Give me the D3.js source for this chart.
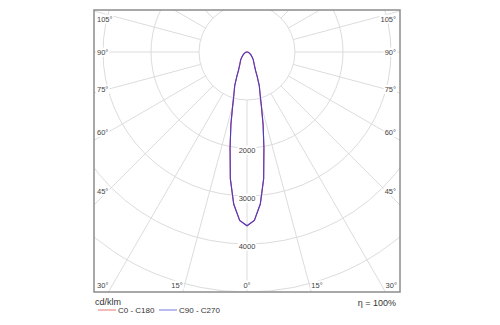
<!DOCTYPE html>
<html><head><meta charset="utf-8">
<script src="https://cdn.jsdelivr.net/npm/d3@7"></script>
<style>html,body{margin:0;padding:0;background:#fff;} svg{display:block;font-family:"Liberation Sans",Arial,sans-serif;}</style>
</head><body><svg id="c" width="500" height="325"></svg>
<script>
// ---- data ----
const gammaAngles = [0,2.5,5,7.5,10,12.5,15,17.5,20,22.5,25,27.5,30,35,40,45,50,55,60,65,70,75,80,85,90];
const intensityC0C180  = [3620,3510,3180,2660,2030,1550,1150,900,750,560,420,350,300,240,200,150,120,95,75,55,40,28,18,8,0];
const intensityC90C270 = [3620,3510,3180,2660,2030,1550,1150,900,750,560,420,350,300,240,200,150,120,95,75,55,40,28,18,8,0];
const ringValues = [1000,2000,3000,4000,5000];
const ringLabelValues = [2000,3000,4000];
const radialLineAngles = d3.range(0,360,15);
const sideAngleLabels = [45,60,75,90,105];
const bottomAngleLabels = [0,15,30];
const unitLabel = "cd/klm";
const seriesNames = ["C0 - C180","C90 - C270"];
const seriesColors = ["#e03c3c","#3c3cd8"];
const efficiencyLabel = "η = 100%";

// ---- layout ----
const svg = d3.select("#c");
const frame = {x:94, y:10, w:306, h:282};
const cx = frame.x + frame.w/2, cy = 52;
const r = d3.scaleLinear().domain([0,5000]).range([0,240]);
const toRad = d => d*Math.PI/180;

svg.append("defs").append("clipPath").attr("id","fc")
  .append("rect").attr("x",frame.x).attr("y",frame.y).attr("width",frame.w).attr("height",frame.h);

const grid = svg.append("g").attr("clip-path","url(#fc)")
  .append("g").attr("transform",`translate(${cx},${cy})`);
grid.selectAll("circle").data(ringValues).join("circle")
  .attr("r",d=>r(d)).attr("fill","none").attr("stroke","#dcdcdc").attr("stroke-width",1);
grid.selectAll("line").data(radialLineAngles).join("line")
  .attr("x1",d=>r(1000)*Math.sin(toRad(d))).attr("y1",d=>r(1000)*Math.cos(toRad(d)))
  .attr("x2",d=>400*Math.sin(toRad(d))).attr("y2",d=>400*Math.cos(toRad(d)))
  .attr("stroke","#dcdcdc").attr("stroke-width",1);

// ring labels with white background
const labelFont = 7.5;
function bgText(g, x, y, txt, anchor){
  const t = g.append("text").attr("x",x).attr("y",y).attr("dy","0.35em")
    .attr("text-anchor",anchor).attr("font-size",labelFont).attr("fill","#444").text(txt);
  const b = t.node().getBBox();
  g.insert("rect","text").attr("x",b.x-1).attr("y",b.y).attr("width",b.width+2).attr("height",b.height).attr("fill","#fff");
  return t;
}
const rl = svg.append("g");
ringLabelValues.forEach(v=>{
  bgText(rl.append("g"), cx, cy + r(v) + 2, String(v), "middle");
});

// curves
function seriesPoints(vals){
  const pts = [];
  for(let i=gammaAngles.length-1;i>=0;i--) pts.push([Math.PI+toRad(gammaAngles[i]), r(vals[i])]);
  for(let i=1;i<gammaAngles.length;i++) pts.push([Math.PI-toRad(gammaAngles[i]), r(vals[i])]);
  return pts;
}
const line = d3.lineRadial().angle(d=>d[0]).radius(d=>d[1]).curve(d3.curveLinear);
const cg = svg.append("g").attr("transform",`translate(${cx},${cy})`);
[intensityC0C180, intensityC90C270].forEach((vals,i)=>{
  cg.append("path").attr("d",line(seriesPoints(vals))).attr("fill","none")
    .attr("stroke",seriesColors[i]).attr("stroke-width",1.1).attr("opacity", i===1?0.9:1);
});

// angle labels
const al = svg.append("g");
const sideRef = 139;
sideAngleLabels.forEach(a=>{
  let y = cy + sideRef / Math.tan(toRad(a));
  if (Math.abs(a-90)<1e-9) y = cy;
  y = Math.max(frame.y+9, y);
  bgText(al.append("g"), frame.x+3, y, a+"°", "start");
  bgText(al.append("g"), frame.x+frame.w-4, y, a+"°", "end");
});
const bottomY = frame.y + frame.h - 7;
bottomAngleLabels.forEach(a=>{
  const dx = (frame.y+frame.h-cy)*Math.tan(toRad(a));
  if (a===0){ bgText(al.append("g"), cx, bottomY, "0°", "middle"); return; }
  bgText(al.append("g"), cx-dx, bottomY, a+"°", "end");
  bgText(al.append("g"), cx+dx, bottomY, a+"°", "start");
});

// frame
svg.append("rect").attr("x",frame.x).attr("y",frame.y).attr("width",frame.w).attr("height",frame.h)
  .attr("fill","none").attr("stroke","#8c8c8c").attr("stroke-width",1.5);

// legend
svg.append("text").attr("x",frame.x+1).attr("y",305).attr("font-size",9).attr("fill","#333").text(unitLabel);
svg.append("text").attr("x",frame.x+frame.w-4).attr("y",306).attr("text-anchor","end").attr("font-size",9).attr("fill","#333").text(efficiencyLabel);
const legendX = [98,159];
seriesNames.forEach((n,i)=>{
  svg.append("line").attr("x1",legendX[i]).attr("x2",legendX[i]+18).attr("y1",310).attr("y2",310)
    .attr("stroke",seriesColors[i]).attr("stroke-width",1).attr("opacity",0.7);
  svg.append("text").attr("x",legendX[i]+20).attr("y",310).attr("dy","0.35em").attr("font-size",8).attr("fill","#333").text(n);
});
</script></body></html>
